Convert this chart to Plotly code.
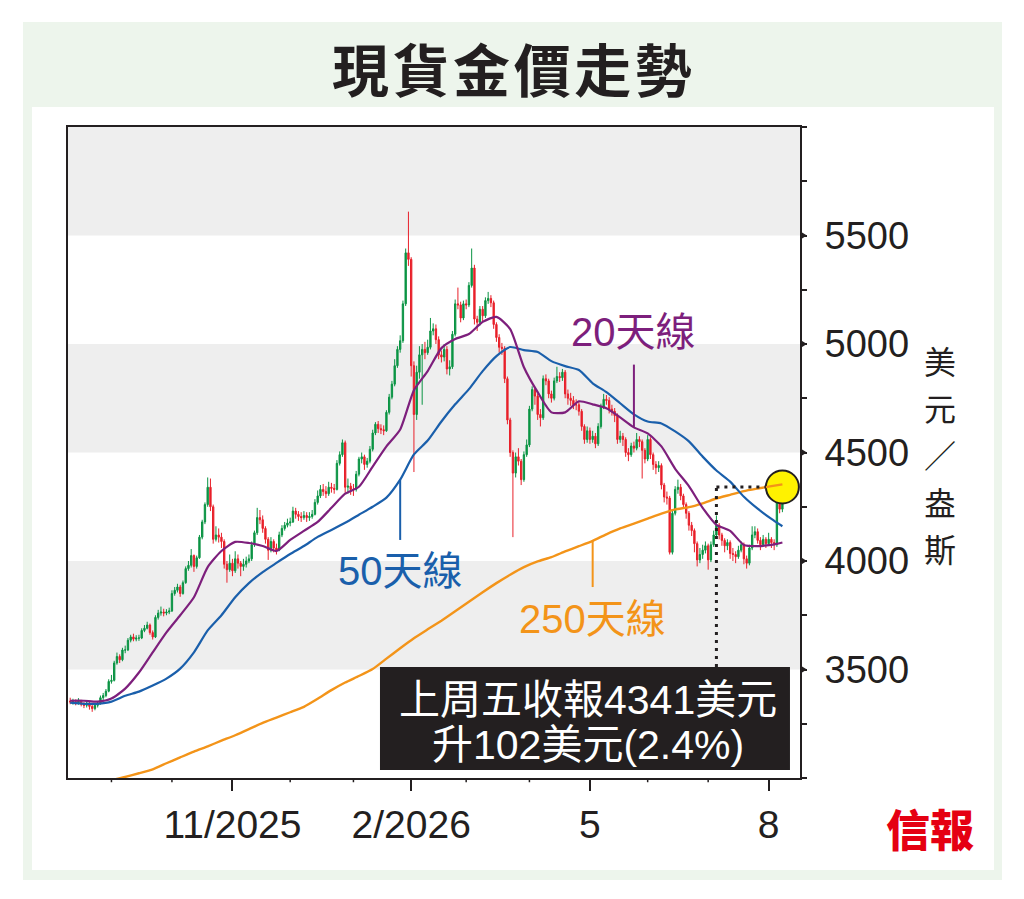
import pandas as pd
import plotly.graph_objects as go

# ---------------- data ----------------
dates = [d.strftime("%Y-%m-%d") for d in pd.bdate_range("2025-08-11", periods=260)]

first_open = 3355
closes = [
    3350, 3352, 3345, 3355, 3340, 3335, 3345, 3330, 3320, 3335,
    3345, 3370, 3380, 3400, 3445, 3450, 3530, 3560, 3545, 3590,
    3590, 3635, 3650, 3640, 3645, 3645, 3680, 3690, 3705, 3670,
    3650, 3740, 3760, 3765, 3760, 3765, 3770, 3850, 3865, 3880,
    3850, 3900, 3965, 3980, 4025, 3975, 4015, 4110, 4180, 4260,
    4340, 4250, 4100, 4120, 4110, 4090, 3985, 3960, 3990, 3955,
    4010, 3990, 3975, 3985, 4000, 4010, 4075, 4130, 4200, 4190,
    4150, 4100, 4050, 4090, 4060, 4050, 4120, 4150, 4165, 4175,
    4180, 4230, 4215, 4205, 4200, 4210, 4200, 4205, 4215, 4270,
    4300, 4330, 4320, 4310, 4340, 4335, 4330, 4450, 4490, 4545,
    4340, 4345, 4330, 4330, 4400, 4470, 4480, 4445, 4460, 4515,
    4590, 4630, 4610, 4605, 4600, 4685, 4755, 4815, 4900, 4975,
    5015, 5185, 5420, 5390, 4900, 4675, 4870, 4950, 4975, 4960,
    4985, 5060, 5070, 5020, 4950, 4940, 4975, 4885, 4895, 5045,
    5185, 5180, 5120, 5185, 5180, 5270, 5350, 5115, 5100, 5160,
    5130, 5200, 5210, 5190, 5090, 5030, 4985, 4980, 4840, 4650,
    4500, 4405, 4480, 4460, 4375, 4490, 4535, 4700, 4790, 4760,
    4675, 4660, 4840, 4830, 4770, 4750, 4830, 4850, 4845, 4870,
    4770, 4750, 4740, 4720, 4720, 4690, 4620, 4560, 4600, 4560,
    4575, 4540, 4620, 4710, 4745, 4740, 4700, 4690, 4670, 4560,
    4575, 4560, 4500, 4490, 4530, 4520, 4560, 4550, 4510, 4470,
    4560, 4490, 4445, 4430, 4440, 4350, 4295, 4290, 4040, 4220,
    4330, 4340, 4300, 4260, 4220, 4165, 4140, 4080, 4005, 4030,
    4050, 4070, 4005, 4075, 4120, 4165, 4120, 4095, 4070, 4085,
    4035, 4030, 4020, 4050, 4075, 4010, 3990, 4060, 4120, 4135,
    4095, 4075, 4100, 4080, 4100, 4085, 4075, 4270, 4239, 4341,
]
highs = [
    3370, 3365, 3362, 3368, 3360, 3350, 3355, 3350, 3338, 3345,
    3355, 3380, 3392, 3410, 3455, 3475, 3540, 3578, 3570, 3600,
    3610, 3645, 3660, 3665, 3658, 3660, 3690, 3705, 3720, 3712,
    3680, 3750, 3775, 3790, 3780, 3778, 3785, 3865, 3880, 3895,
    3890, 3910, 3975, 4000, 4055, 4030, 4025, 4120, 4190, 4270,
    4385, 4380, 4260, 4160, 4150, 4130, 4100, 4000, 4030, 4010,
    4045, 4030, 4000, 4010, 4020, 4030, 4090, 4140, 4245, 4235,
    4210, 4160, 4110, 4110, 4100, 4080, 4135, 4165, 4180, 4195,
    4200, 4250, 4245, 4230, 4225, 4230, 4225, 4225, 4235, 4285,
    4325, 4350, 4355, 4345, 4365, 4360, 4355, 4465, 4505, 4560,
    4555, 4380, 4360, 4355, 4415, 4480, 4500, 4490, 4475, 4530,
    4605, 4640, 4645, 4630, 4625, 4695, 4770, 4830, 4930, 4990,
    5040, 5200, 5440, 5610, 5400, 4920, 4900, 4990, 5000, 5010,
    5020, 5120, 5095, 5090, 5035, 4970, 5000, 4990, 4925, 5060,
    5205, 5260, 5195, 5200, 5205, 5285, 5440, 5365, 5130, 5175,
    5175, 5215, 5240, 5225, 5200, 5100, 5045, 5005, 4990, 4850,
    4660, 4510, 4500, 4520, 4470, 4505, 4560, 4715, 4805, 4800,
    4770, 4700, 4855, 4860, 4840, 4785, 4845, 4895, 4870, 4885,
    4880, 4790, 4775, 4760, 4745, 4735, 4700, 4630, 4620, 4615,
    4600, 4590, 4635, 4725, 4770, 4765, 4755, 4720, 4705, 4680,
    4600, 4590, 4570, 4520, 4545, 4550, 4590, 4575, 4560, 4520,
    4580, 4570, 4500, 4460, 4460, 4450, 4360, 4320, 4300, 4235,
    4345, 4375, 4355, 4310, 4270, 4230, 4180, 4150, 4090, 4060,
    4075, 4090, 4080, 4090, 4140, 4210, 4175, 4130, 4105, 4100,
    4095, 4060, 4045, 4070, 4090, 4085, 4025, 4075, 4160, 4160,
    4150, 4110, 4120, 4110, 4130, 4110, 4100, 4285, 4300, 4380,
]
lows = [
    3340, 3338, 3335, 3338, 3330, 3322, 3325, 3315, 3305, 3312,
    3325, 3338, 3360, 3372, 3395, 3435, 3445, 3522, 3530, 3538,
    3575, 3585, 3625, 3630, 3630, 3632, 3640, 3672, 3685, 3660,
    3638, 3645, 3730, 3748, 3745, 3750, 3755, 3765, 3840, 3855,
    3835, 3845, 3895, 3955, 3970, 3950, 3965, 4010, 4100, 4170,
    4250, 4230, 4080, 4090, 4085, 4060, 3965, 3900, 3950, 3930,
    3945, 3965, 3930, 3955, 3970, 3990, 4000, 4065, 4120, 4170,
    4130, 4080, 4005, 4040, 4040, 4030, 4045, 4110, 4140, 4155,
    4160, 4175, 4195, 4185, 4180, 4190, 4180, 4185, 4195, 4210,
    4260, 4290, 4300, 4290, 4300, 4315, 4310, 4325, 4440, 4480,
    4315, 4310, 4305, 4300, 4320, 4390, 4450, 4420, 4430, 4450,
    4505, 4580, 4590, 4585, 4580, 4595, 4675, 4745, 4805, 4890,
    4960, 5005, 5175, 5360, 4850, 4410, 4650, 4840, 4720, 4930,
    4950, 4975, 5040, 5000, 4930, 4915, 4920, 4860, 4855, 4885,
    5035, 5160, 5100, 5110, 5160, 5170, 5260, 5090, 5060, 5085,
    5105, 5120, 5185, 5170, 5070, 5010, 4960, 4950, 4820, 4630,
    4480, 4110, 4385, 4440, 4350, 4365, 4480, 4525, 4690, 4720,
    4650, 4620, 4650, 4810, 4750, 4730, 4740, 4820, 4825, 4830,
    4750, 4720, 4715, 4700, 4695, 4670, 4600, 4540, 4545, 4540,
    4545, 4520, 4530, 4610, 4700, 4720, 4680, 4670, 4640, 4540,
    4545, 4530, 4480, 4460, 4480, 4500, 4510, 4525, 4380, 4450,
    4460, 4470, 4420, 4400, 4410, 4330, 4270, 4260, 4030, 4030,
    4210, 4310, 4280, 4240, 4195, 4140, 4115, 4040, 3975, 3990,
    4010, 4035, 3960, 3995, 4065, 4110, 4100, 4070, 4040, 4050,
    4010, 4000, 3990, 4010, 4040, 3985, 3965, 3980, 4050, 4105,
    4080, 4050, 4065, 4060, 4070, 4060, 4050, 4065, 4220, 4225,
]
opens = [first_open] + closes[:-1]

# moving averages, read once a week (every 5th trading day) plus the last day
ma_dates = dates[::5] + [dates[-1]]
ma20 = [3356, 3356, 3352, 3366, 3412, 3486, 3579, 3671, 3750, 3833,
        3972, 4046, 4088, 4083, 4069, 4046, 4097, 4139, 4180, 4245,
        4310, 4342, 4435, 4528, 4606, 4787, 4875, 4981, 5023, 5046,
        5102, 5125, 5069, 4893, 4778, 4685, 4685, 4736, 4722, 4704,
        4662, 4616, 4588, 4528, 4425, 4345, 4245, 4167, 4139, 4074,
        4069, 4074, 4085]
ma50 = [3347, 3342, 3342, 3352, 3379, 3398, 3426, 3458, 3504, 3579,
        3680, 3750, 3833, 3898, 3949, 3991, 4032, 4069, 4111, 4143,
        4176, 4213, 4250, 4292, 4375, 4491, 4555, 4643, 4722, 4792,
        4875, 4944, 4986, 4972, 4963, 4921, 4898, 4880, 4819, 4778,
        4727, 4676, 4643, 4634, 4597, 4551, 4481, 4417, 4366, 4296,
        4241, 4194, 4160]
ma250_dates = ma_dates[3:]
ma250 = [2990, 3005, 3022, 3040, 3068, 3095, 3122, 3146, 3172, 3197,
         3225, 3254, 3278, 3303, 3328, 3365, 3405, 3440, 3470, 3502,
         3550, 3598, 3644, 3685, 3725, 3768, 3812, 3856, 3898, 3937,
         3972, 3998, 4018, 4044, 4068, 4093, 4123, 4150, 4172, 4195,
         4218, 4238, 4248, 4266, 4288, 4305, 4322, 4334, 4345, 4353]

# month marks (weekend month starts fall back to the last trading day before)
major_ticks = ["2025-10-31", "2026-01-30", "2026-05-01", "2026-07-31"]
major_labels = ["11/2025", "2/2026", "5", "8"]
minor_ticks = ["2025-09-01", "2025-10-01", "2025-12-01", "2026-01-01",
               "2026-02-27", "2026-04-01", "2026-06-01", "2026-07-01"]
y_ticks = [3500, 4000, 4500, 5000, 5500]
y_labels = ["3500", "4000", "4500", "5000", "5500"]
bands = [(3500, 4000), (4500, 5000), (5500, 6000)]

title = "現貨金價走勢"
unit = "美元／盎斯"
box_line1 = "上周五收報4341美元"
box_line2 = "升102美元(2.4%)"

# ---------------- styles ----------------
GREEN = "#0b9444"
RED = "#e8202a"
PURPLE = "#7d1f7c"
BLUE = "#1a5fab"
ORANGE = "#f39419"
INK = "#231f20"
NARROW = "Liberation Sans Narrow, Arial Narrow, Liberation Sans, Noto Sans CJK TC, sans-serif"
CJK = "Noto Sans CJK TC, sans-serif"

fig = go.Figure()

# yellow highlight circle on the last close (drawn under the candles)
fig.add_trace(go.Scatter(
    x=[dates[-1]], y=[closes[-1]], mode="markers",
    marker=dict(size=33, color="#fff200", line=dict(color=INK, width=2)),
    showlegend=False, hoverinfo="skip"))

fig.add_trace(go.Candlestick(
    x=dates, open=opens, high=highs, low=lows, close=closes,
    increasing=dict(line=dict(color=GREEN, width=1), fillcolor=GREEN),
    decreasing=dict(line=dict(color=RED, width=1), fillcolor=RED),
    whiskerwidth=0, showlegend=False))

fig.add_trace(go.Scatter(x=ma250_dates, y=ma250, mode="lines",
                         line=dict(color=ORANGE, width=2.4, shape="spline", smoothing=0.5),
                         showlegend=False))
fig.add_trace(go.Scatter(x=ma_dates, y=ma50, mode="lines",
                         line=dict(color=BLUE, width=2.2, shape="spline", smoothing=0.6),
                         showlegend=False))
fig.add_trace(go.Scatter(x=ma_dates, y=ma20, mode="lines",
                         line=dict(color=PURPLE, width=2.2, shape="spline", smoothing=0.6),
                         showlegend=False))

shapes = []
# outer light-green frame and inner white panel
shapes.append(dict(type="rect", xref="paper", yref="paper", x0=-0.0615, x1=1.2760,
                   y0=-0.1567, y1=1.1613, fillcolor="#edf5ec", line=dict(width=0), layer="below"))
shapes.append(dict(type="rect", xref="paper", yref="paper", x0=-0.0492, x1=1.2650,
                   y0=-0.1413, y1=1.0307, fillcolor="white", line=dict(width=0), layer="below"))
# grey bands
for b0, b1 in bands:
    shapes.append(dict(type="rect", xref="paper", yref="y", x0=0, x1=1, y0=b0, y1=b1,
                       fillcolor="#eeeeee", line=dict(width=0), layer="below"))
# triangle markers on the right axis
for v in y_ticks:
    shapes.append(dict(type="path", xref="paper", yref="y",
                       path=f"M 1.0,{v - 20} L 1.0095,{v} L 1.0,{v + 20} Z",
                       fillcolor=INK, line=dict(width=0)))
# minor month ticks on the x axis
for d in minor_ticks:
    shapes.append(dict(type="line", xref="x", yref="paper", x0=d, x1=d, y0=0, y1=-0.0065,
                       line=dict(color=INK, width=1.5)))
# pointer lines for the MA labels
shapes.append(dict(type="line", xref="x", yref="y", x0=dates[205], x1=dates[205],
                   y0=ma20[41], y1=4905, line=dict(color=PURPLE, width=2)))
shapes.append(dict(type="line", xref="x", yref="y", x0=dates[120], x1=dates[120],
                   y0=ma50[24], y1=4097, line=dict(color=BLUE, width=2)))
shapes.append(dict(type="line", xref="x", yref="y", x0=dates[190], x1=dates[190],
                   y0=ma250[35], y1=3880, line=dict(color=ORANGE, width=2)))
# dotted guide lines to the last close
shapes.append(dict(type="line", xref="x", yref="y", x0=dates[235], x1=dates[253],
                   y0=closes[-1], y1=closes[-1], line=dict(color=INK, width=3, dash="3px,5px")))
shapes.append(dict(type="line", xref="x", yref="paper", x0=dates[235], x1=dates[235],
                   y0=0.1705, y1=(closes[-1] - 3000) / 3000, line=dict(color=INK, width=3, dash="3px,5px")))
# black caption box
shapes.append(dict(type="rect", xref="paper", yref="paper", x0=0.4262, x1=0.9863,
                   y0=0.0123, y1=0.1705, fillcolor=INK, line=dict(width=0)))

HS = "\u200a"
annotations = [
    dict(text=HS.join(title), xref="paper", yref="paper", x=0.6066, y=1.0922, xanchor="center",
         yanchor="middle", showarrow=False,
         font=dict(family=CJK, size=57, color=INK, weight="bold")),
    dict(text="20天線", xref="x", yref="y", x=dates[205], y=5055, xanchor="center",
         yanchor="middle", showarrow=False, font=dict(family=NARROW, size=40, color=PURPLE)),
    dict(text="50天線", xref="x", yref="y", x=dates[120], y=3954, xanchor="center",
         yanchor="middle", showarrow=False, font=dict(family=NARROW, size=40, color=BLUE)),
    dict(text="250天線", xref="x", yref="y", x=dates[190], y=3731, xanchor="center",
         yanchor="middle", showarrow=False, font=dict(family=NARROW, size=40, color=ORANGE)),
    dict(text=box_line1, xref="paper", yref="paper", x=0.7104, y=0.1198, xanchor="center",
         yanchor="middle", showarrow=False, font=dict(family=NARROW, size=41, color="white")),
    dict(text=box_line2, xref="paper", yref="paper", x=0.7104, y=0.0507, xanchor="center",
         yanchor="middle", showarrow=False, font=dict(family=NARROW, size=41, color="white")),
    dict(text="信報", xref="paper", yref="paper", x=1.1776, y=-0.0768, xanchor="center",
         yanchor="middle", showarrow=False,
         font=dict(family=CJK, size=44, color="#e50012", weight=900)),
]
# vertical unit title, one character per line
unit_y = [0.6421, 0.5699, 0.4977, 0.4255, 0.3533]
for ch, yy in zip(unit, unit_y):
    annotations.append(dict(text=ch, xref="paper", yref="paper", x=1.1913, y=yy,
                            xanchor="center", yanchor="middle", showarrow=False,
                            font=dict(family=CJK, size=32, color=INK)))

fig.update_layout(
    width=1008, height=883,
    margin=dict(l=60, r=216, t=119, b=113),
    paper_bgcolor="white", plot_bgcolor="rgba(0,0,0,0)",
    shapes=shapes, annotations=annotations,
    showlegend=False, hovermode=False,
    xaxis=dict(type="category", categoryorder="array", categoryarray=dates,
               range=[-0.8, 265.4], rangeslider=dict(visible=False),
               tickmode="array", tickvals=major_ticks, ticktext=major_labels,
               ticks="outside", ticklen=11, tickwidth=2, tickcolor=INK,
               tickfont=dict(family=NARROW, size=39, color=INK),
               showline=True, mirror=True, linecolor=INK, linewidth=2,
               showgrid=False, zeroline=False, fixedrange=True),
    yaxis=dict(side="right", range=[3000, 6000],
               tickmode="array", tickvals=y_ticks, ticktext=y_labels,
               ticks="outside", ticklen=5, tickwidth=1.5, tickcolor=INK,
               minor=dict(tickmode="linear", tick0=3000, dtick=250, ticks="outside",
                          ticklen=5, tickwidth=1.5, tickcolor=INK, showgrid=False),
               ticklabelstandoff=10,
               tickfont=dict(family=NARROW, size=38, color=INK),
               showline=True, mirror=True, linecolor=INK, linewidth=2,
               showgrid=False, zeroline=False, fixedrange=True),
)

fig.write_html("out.html")
